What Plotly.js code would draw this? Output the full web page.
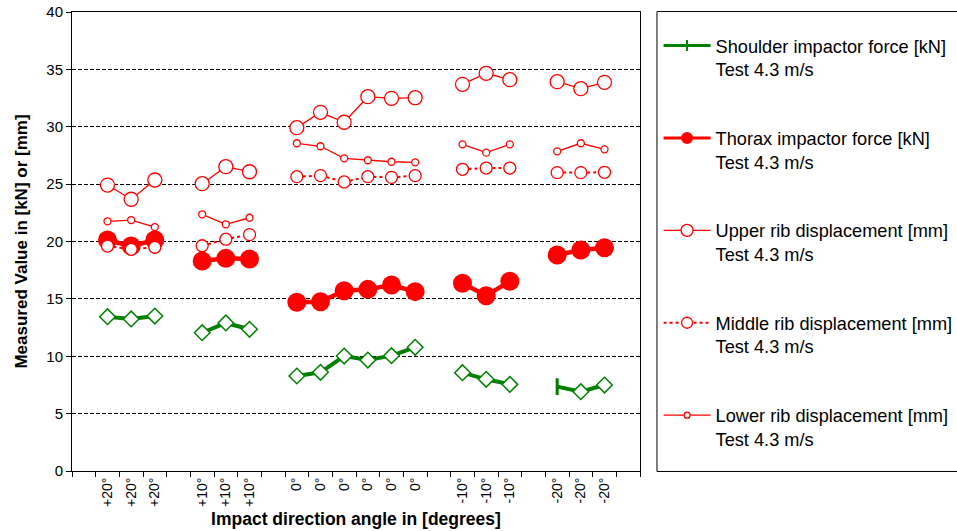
<!DOCTYPE html>
<html>
<head>
<meta charset="utf-8">
<script src="https://cdn.plot.ly/plotly-3.0.1.min.js"></script>
<style>html,body{margin:0;padding:0;background:#fff;}#chart{width:957px;height:531px;}</style>
</head>
<body>
<div id="chart"></div>
<script>
// Tick labels for each category slot (empty slots separate the angle groups)
const angleLabels = ['', '+20°', '+20°', '+20°', '', '+10°', '+10°', '+10°', '',
  '0°', '0°', '0°', '0°', '0°', '0°', '', '-10°', '-10°', '-10°', '', '-20°', '-20°', '-20°', ''];
const categories = angleLabels.map((l, i) => 'c' + i);

// Series values (null = gap between groups)
const shoulderForce = [null, 13.45, 13.25, 13.5, null, 12.05, 12.9, 12.35, null,
  8.28, 8.6, 10.02, 9.67, 10.05, 10.78, null, 8.57, 7.99, 7.55, null, 7.35, 6.91, 7.49, null];
const thoraxForce = [null, 20.13, 19.6, 20.13, null, 18.3, 18.53, 18.47, null,
  14.7, 14.75, 15.71, 15.83, 16.21, 15.63, null, 16.36, 15.28, 16.53, null, 18.82, 19.26, 19.46, null];
const upperRib = [null, 24.92, 23.68, 25.36, null, 25.04, 26.52, 26.08, null,
  29.92, 31.26, 30.39, 32.62, 32.48, 32.53, null, 33.7, 34.66, 34.1, null, 33.93, 33.32, 33.87, null];
const middleRib = [null, 19.6, 19.32, 19.5, null, 19.63, 20.2, 20.6, null,
  25.65, 25.74, 25.19, 25.65, 25.59, 25.74, null, 26.29, 26.4, 26.4, null, 26.0, 26.0, 26.03, null];
const lowerRib = [null, 21.76, 21.87, 21.26, null, 22.37, 21.5, 22.07, null,
  28.56, 28.3, 27.25, 27.08, 26.95, 26.9, null, 28.47, 27.74, 28.47, null, 27.86, 28.56, 28.03, null];

const seriesNames = [
  'Shoulder impactor force [kN]<br>Test 4.3 m/s',
  'Thorax impactor force [kN]<br>Test 4.3 m/s',
  'Upper rib displacement [mm]<br>Test 4.3 m/s',
  'Middle rib displacement [mm]<br>Test 4.3 m/s',
  'Lower rib displacement [mm]<br>Test 4.3 m/s'
];

const GREEN = '#008000', RED = '#ff0000';
const FONT = 'Liberation Sans, Arial, sans-serif';

// first point of the -20° group keeps the series' default marker
const specialIdx = 20;
const shoulderSymbols = shoulderForce.map((v, i) => i === specialIdx ? 'line-ns' : 'diamond');
const shoulderLineW = shoulderForce.map((v, i) => i === specialIdx ? 3 : 1.5);

const data = [
  {x: categories, y: shoulderForce, type: 'scatter', mode: 'lines+markers', showlegend: false,
   line: {color: GREEN, width: 4},
   marker: {symbol: shoulderSymbols, size: 12, color: '#ffffff', line: {color: GREEN, width: shoulderLineW}}},
  {x: categories, y: thoraxForce, type: 'scatter', mode: 'lines+markers', showlegend: false,
   line: {color: RED, width: 4.5},
   marker: {symbol: 'circle', size: 19, color: RED, line: {width: 0}}},
  {x: categories, y: upperRib, type: 'scatter', mode: 'lines+markers', showlegend: false,
   line: {color: RED, width: 1.3},
   marker: {symbol: 'circle', size: 14, color: '#ffffff', line: {color: RED, width: 1.3}}},
  {x: categories, y: middleRib, type: 'scatter', mode: 'lines+markers', showlegend: false,
   line: {color: RED, width: 2, dash: 'dot'},
   marker: {symbol: 'circle', size: 12, color: '#ffffff', line: {color: RED, width: 1.3}}},
  {x: categories, y: lowerRib, type: 'scatter', mode: 'lines+markers', showlegend: false,
   line: {color: RED, width: 1.3},
   marker: {symbol: 'circle', size: 7, color: '#ffffff', line: {color: RED, width: 1.3}}},
  // legend entries
  {x: [null], y: [null], type: 'scatter', mode: 'lines+markers', name: seriesNames[0], legendgroup: 'g1',
   line: {color: GREEN, width: 3}, marker: {symbol: 'line-ns', size: 8, color: GREEN, line: {color: GREEN, width: 2}}},
  {x: [null], y: [null], type: 'scatter', mode: 'lines+markers', name: seriesNames[1], legendgroup: 'g2',
   line: {color: RED, width: 3}, marker: {symbol: 'circle', size: 12, color: RED, line: {width: 0}}},
  {x: [null], y: [null], type: 'scatter', mode: 'lines+markers', name: seriesNames[2], legendgroup: 'g3',
   line: {color: RED, width: 1.3}, marker: {symbol: 'circle', size: 12, color: '#ffffff', line: {color: RED, width: 1.3}}},
  {x: [null], y: [null], type: 'scatter', mode: 'lines+markers', name: seriesNames[3], legendgroup: 'g4',
   line: {color: RED, width: 2, dash: 'dot'}, marker: {symbol: 'circle', size: 11, color: '#ffffff', line: {color: RED, width: 1.3}}},
  {x: [null], y: [null], type: 'scatter', mode: 'lines+markers', name: seriesNames[4], legendgroup: 'g5',
   line: {color: RED, width: 1.3}, marker: {symbol: 'circle', size: 6, color: '#ffffff', line: {color: RED, width: 1.3}}}
];

const layout = {
  width: 957, height: 531,
  margin: {l: 72, r: 317, t: 12, b: 60, autoexpand: false},
  paper_bgcolor: '#ffffff', plot_bgcolor: '#ffffff',
  font: {family: FONT, color: '#000'},
  showlegend: true,
  xaxis: {
    type: 'category', categoryorder: 'array', categoryarray: categories,
    tickmode: 'array', tickvals: categories, ticktext: angleLabels,
    tickson: 'boundaries', ticks: 'outside', ticklen: 5, tickcolor: '#000', tickwidth: 1,
    tickangle: -90, tickfont: {size: 14, family: FONT, color: '#000'},
    showgrid: false, showline: true, linecolor: '#000', linewidth: 1, mirror: true,
    range: [-0.5, 23.5], fixedrange: true,
    title: {text: '<b>Impact direction angle in [degrees]</b>', font: {size: 17.5, family: FONT, color: '#000'}, standoff: 6}
  },
  yaxis: {
    range: [0, 40], dtick: 5, tick0: 0,
    ticks: 'outside', ticklen: 5, tickcolor: '#000', tickwidth: 1,
    tickfont: {size: 15, family: FONT, color: '#000'},
    showgrid: true, gridcolor: '#000', gridwidth: 1, griddash: '4px,2px',
    zeroline: false, showline: true, linecolor: '#000', linewidth: 1, mirror: true,
    title: {text: '<b>Measured Value in [kN] or [mm]</b>', font: {size: 17, family: FONT, color: '#000'}, standoff: 14}
  },
  legend: {
    x: 1.0327, xanchor: 'left', y: 0.967, yanchor: 'top',
    bgcolor: 'rgba(0,0,0,0)', borderwidth: 0,
    font: {size: 18.2, family: FONT, color: '#000'},
    itemwidth: 47, valign: 'top',
    traceorder: 'grouped', tracegroupgap: 42.1
  },
  shapes: [
    {type: 'rect', xref: 'paper', yref: 'paper', x0: 1.0299, x1: 1.7, y0: -0.001, y1: 1.001,
     line: {color: '#000', width: 1}, fillcolor: 'rgba(0,0,0,0)', layer: 'below'}
  ]
};

Plotly.newPlot('chart', data, layout, {displayModeBar: false, staticPlot: true});
</script>
</body>
</html>
